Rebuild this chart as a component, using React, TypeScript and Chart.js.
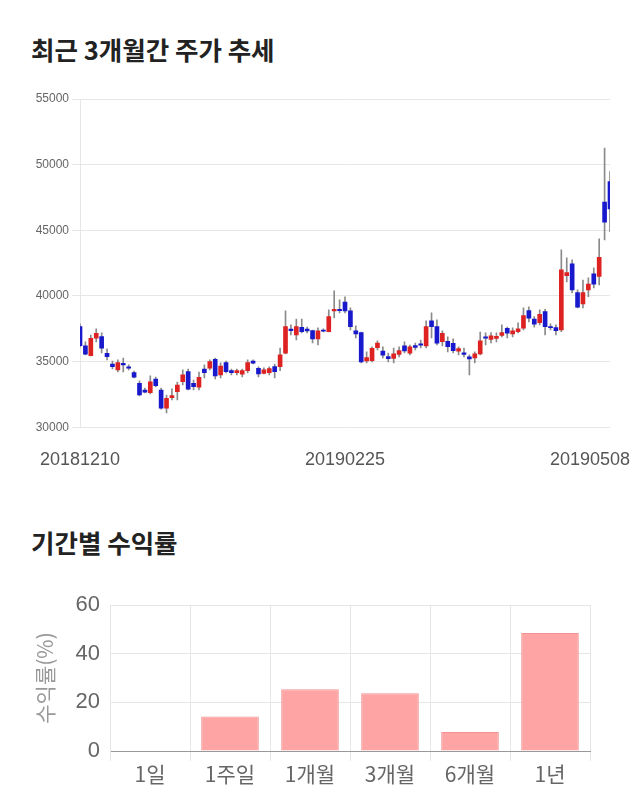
import React, { useEffect, useRef } from 'react';
import { Chart, registerables } from 'chart.js';

Chart.register(...registerables);

// ---- Daily OHLC (2018-12-10 .. 2019-05-08) ----
const openPrices = [
  37670, 36200, 35460, 36780, 36900, 35640, 34820, 34370, 34880, 34600,
  34160, 33350, 32840, 32640, 33680, 32840, 31450, 32260, 32710, 33470,
  34240, 33350, 33050, 34440, 34500, 35180, 33990, 34920, 34310, 34160,
  34040, 34310, 35050, 34500, 34110, 34160, 34620, 34620, 35640, 37470,
  37030, 37620, 37470, 37360, 36730, 37410, 37290, 38860, 38990, 39530,
  38860, 37340, 37210, 35050, 35070, 36070, 35810, 35380, 35240, 35550,
  36200, 35640, 36220, 36350, 36200, 38100, 37670, 36520, 36540, 36400,
  35790, 35680, 35360, 35280, 35590, 36880, 36690, 36770, 37000, 37540,
  37110, 37290, 37540, 38890, 38250, 37970, 38810, 37670, 37590, 37410,
  41550, 42440, 40260, 39400, 40460, 41680, 41480, 47150, 48710,
];
const highPrices = [
  37870, 36500, 37030, 37490, 37190, 35970, 35050, 35130, 35280, 34750,
  34290, 33530, 32990, 33910, 33830, 32990, 32460, 32920, 33450, 34370,
  34440, 33600, 34210, 34750, 35130, 35280, 34900, 35050, 34440, 34440,
  34440, 35130, 35130, 34600, 34520, 34600, 34820, 36040, 38860, 37800,
  38250, 38250, 37640, 37410, 37570, 37490, 38940, 40390, 39700, 39930,
  39090, 37720, 37260, 35740, 36120, 36580, 36120, 35660, 36040, 36120,
  36500, 36270, 36420, 36650, 38100, 38710, 38180, 37340, 36880, 36730,
  36120, 36040, 35510, 35740, 37260, 37190, 37210, 37190, 37800, 37640,
  37570, 37950, 39090, 39170, 38430, 38940, 38990, 37870, 37800, 43510,
  42900, 42750, 40460, 41220, 41380, 42140, 44350, 51260, 49480,
];
const lowPrices = [
  36120, 35510, 35430, 36500, 35660, 35130, 34440, 34210, 34210, 34370,
  33760, 32390, 32610, 32540, 33070, 31390, 31090, 32080, 32080, 33220,
  32840, 32840, 32840, 33760, 34370, 33680, 33760, 34140, 33990, 33990,
  33830, 34140, 34820, 33830, 34060, 33990, 33760, 34310, 35590, 37030,
  36650, 37190, 37190, 36420, 36270, 37260, 37260, 38330, 38710, 38710,
  37410, 36800, 34900, 34900, 34980, 35890, 35280, 34980, 34900, 35360,
  35660, 35510, 35890, 36040, 36040, 36800, 36270, 36200, 35740, 35660,
  35510, 35360, 33990, 34900, 35510, 36270, 36420, 36500, 36880, 36800,
  36880, 37190, 37410, 38020, 37620, 37800, 37030, 37410, 37030, 37290,
  41070, 40230, 39090, 39090, 39950, 40610, 40840, 44270, 44900,
];
const closePrices = [
  36220, 35560, 36780, 37160, 36020, 35380, 34620, 34920, 34750, 34500,
  33810, 32460, 32670, 33470, 33170, 31450, 32210, 32410, 33220, 33990,
  32900, 33090, 33810, 34160, 35000, 33910, 34670, 34240, 34160, 34310,
  34310, 34920, 34880, 34060, 34370, 34470, 34240, 35510, 37670, 37360,
  37670, 37290, 37340, 36730, 37340, 37320, 38430, 38990, 38890, 38860,
  37670, 37110, 34980, 35300, 36020, 36420, 35490, 35230, 35590, 35850,
  35810, 36120, 36080, 36250, 37670, 37670, 36400, 37160, 36140, 35840,
  36000, 35550, 35200, 35590, 36580, 36780, 36960, 36930, 37220, 37160,
  37350, 37490, 38500, 38310, 37850, 38610, 37670, 37590, 37360, 41990,
  41780, 40460, 39140, 40260, 40900, 40900, 42950, 45620, 46630,
];

// x-axis date labels and the candle index each one is anchored to
const dateTickLabels = ['20181210', '20190225', '20190508'];
const dateTickAnchors = [0, 49, 94.3];

const priceMin = 30000;
const priceMax = 55000;
const priceStep = 5000;

// ---- Period returns ----
const periodLabels = ['1일', '1주일', '1개월', '3개월', '6개월', '1년'];
const periodReturns = [0, 14.2, 25.4, 23.7, 7.8, 48.5];
const returnMin = 0;
const returnMax = 60;
const returnStep = 20;

const LATIN = "'Liberation Sans', Arial, 'Noto Sans CJK KR', sans-serif";
const KR = "'Noto Sans CJK KR', 'Liberation Sans', sans-serif";
const UP = 'rgb(222, 34, 34)';
const DOWN = 'rgb(24, 24, 204)';
const GRID = '#e6e6e6';

function CandleChart() {
  const ref = useRef<HTMLCanvasElement | null>(null);
  useEffect(() => {
    if (!ref.current) return;
    const idx = openPrices.map((_, i) => i);
    const colors = idx.map((i) => (closePrices[i] >= openPrices[i] ? UP : DOWN));
    const chart = new Chart(ref.current, {
      type: 'bar',
      data: {
        datasets: [
          {
            label: 'body',
            data: idx.map((i) => ({ x: i, y: [openPrices[i], closePrices[i]] })) as any,
            backgroundColor: colors,
            barThickness: 4,
            minBarLength: 1,
            grouped: false,
            order: 0,
          },
          {
            label: 'wick',
            data: idx.map((i) => ({ x: i, y: [lowPrices[i], highPrices[i]] })) as any,
            backgroundColor: '#8a8a8a',
            barThickness: 1,
            grouped: false,
            order: 1,
          },
        ],
      },
      options: {
        animation: false,
        responsive: false,
        maintainAspectRatio: false,
        layout: { padding: { left: 0, right: 30, top: 19, bottom: 0 } },
        plugins: { legend: { display: false }, tooltip: { enabled: false } },
        scales: {
          x: {
            type: 'linear',
            min: 0,
            max: openPrices.length - 1,
            offset: false,
            grid: { display: false, drawTicks: true, tickLength: 20 },
            border: { display: false },
            afterBuildTicks: (s: any) => {
              s.ticks = dateTickAnchors.map((v) => ({ value: v }));
            },
            afterFit: (s: any) => {
              s.height = 52.7;
            },
            ticks: {
              autoSkip: false,
              maxRotation: 0,
              padding: 2,
              color: '#555',
              font: { size: 18, family: LATIN },
              callback: (_v: any, i: number) => dateTickLabels[i],
            },
          },
          y: {
            min: priceMin,
            max: priceMax,
            afterFit: (s: any) => {
              s.width = 80;
            },
            ticks: {
              stepSize: priceStep,
              padding: 3,
              color: '#666',
              font: { size: 12, family: LATIN },
              callback: (v: any) => String(v),
            },
            grid: { color: GRID, tickLength: 8 },
            border: { color: GRID },
          },
        },
      },
    });
    return () => chart.destroy();
  }, []);
  return <canvas ref={ref} width={640} height={400} style={{ position: 'absolute', left: 0, top: 80 }} />;
}

function ReturnChart() {
  const ref = useRef<HTMLCanvasElement | null>(null);
  useEffect(() => {
    if (!ref.current) return;
    const chart = new Chart(ref.current, {
      type: 'bar',
      data: {
        labels: periodLabels,
        datasets: [
          {
            data: periodReturns,
            backgroundColor: '#ffa4a4',
            borderColor: '#f39090',
            borderWidth: 1,
          },
        ],
      },
      options: {
        animation: false,
        responsive: false,
        maintainAspectRatio: false,
        layout: { padding: { left: 0, right: 50, top: 25, bottom: 0 } },
        plugins: { legend: { display: false }, tooltip: { enabled: false } },
        scales: {
          x: {
            grid: { color: GRID, tickLength: 10, offset: true },
            border: { color: '#999' },
            afterFit: (s: any) => {
              s.height = 59;
            },
            ticks: {
              padding: 0,
              color: '#666',
              font: { size: 21, family: KR },
            },
          },
          y: {
            min: returnMin,
            max: returnMax,
            afterFit: (s: any) => {
              s.width = 110;
            },
            ticks: {
              stepSize: returnStep,
              padding: 10,
              color: '#666',
              font: { size: 22, family: LATIN },
            },
            grid: { color: GRID, drawTicks: false },
            border: { color: GRID },
            title: {
              display: true,
              text: '수익률(%)',
              color: '#999',
              font: { size: 21, family: KR },
              padding: { top: 32, bottom: 0 },
            },
          },
        },
      },
    });
    return () => chart.destroy();
  }, []);
  return <canvas ref={ref} width={640} height={230} style={{ position: 'absolute', left: 0, top: 580 }} />;
}

const titleStyle: React.CSSProperties = {
  position: 'absolute',
  left: 31,
  margin: 0,
  fontFamily: KR,
  fontWeight: 700,
  fontSize: 25.5,
  lineHeight: '25.5px',
  color: '#222',
  whiteSpace: 'nowrap',
};

export default function App() {
  return (
    <div style={{ position: 'absolute', left: 0, top: 0, width: 640, height: 810, background: '#fff', overflow: 'hidden' }}>
      <div style={{ ...titleStyle, top: 35.5 }}>최근 3개월간 주가 추세</div>
      <CandleChart />
      <div style={{ ...titleStyle, top: 528.5 }}>기간별 수익률</div>
      <ReturnChart />
    </div>
  );
}
